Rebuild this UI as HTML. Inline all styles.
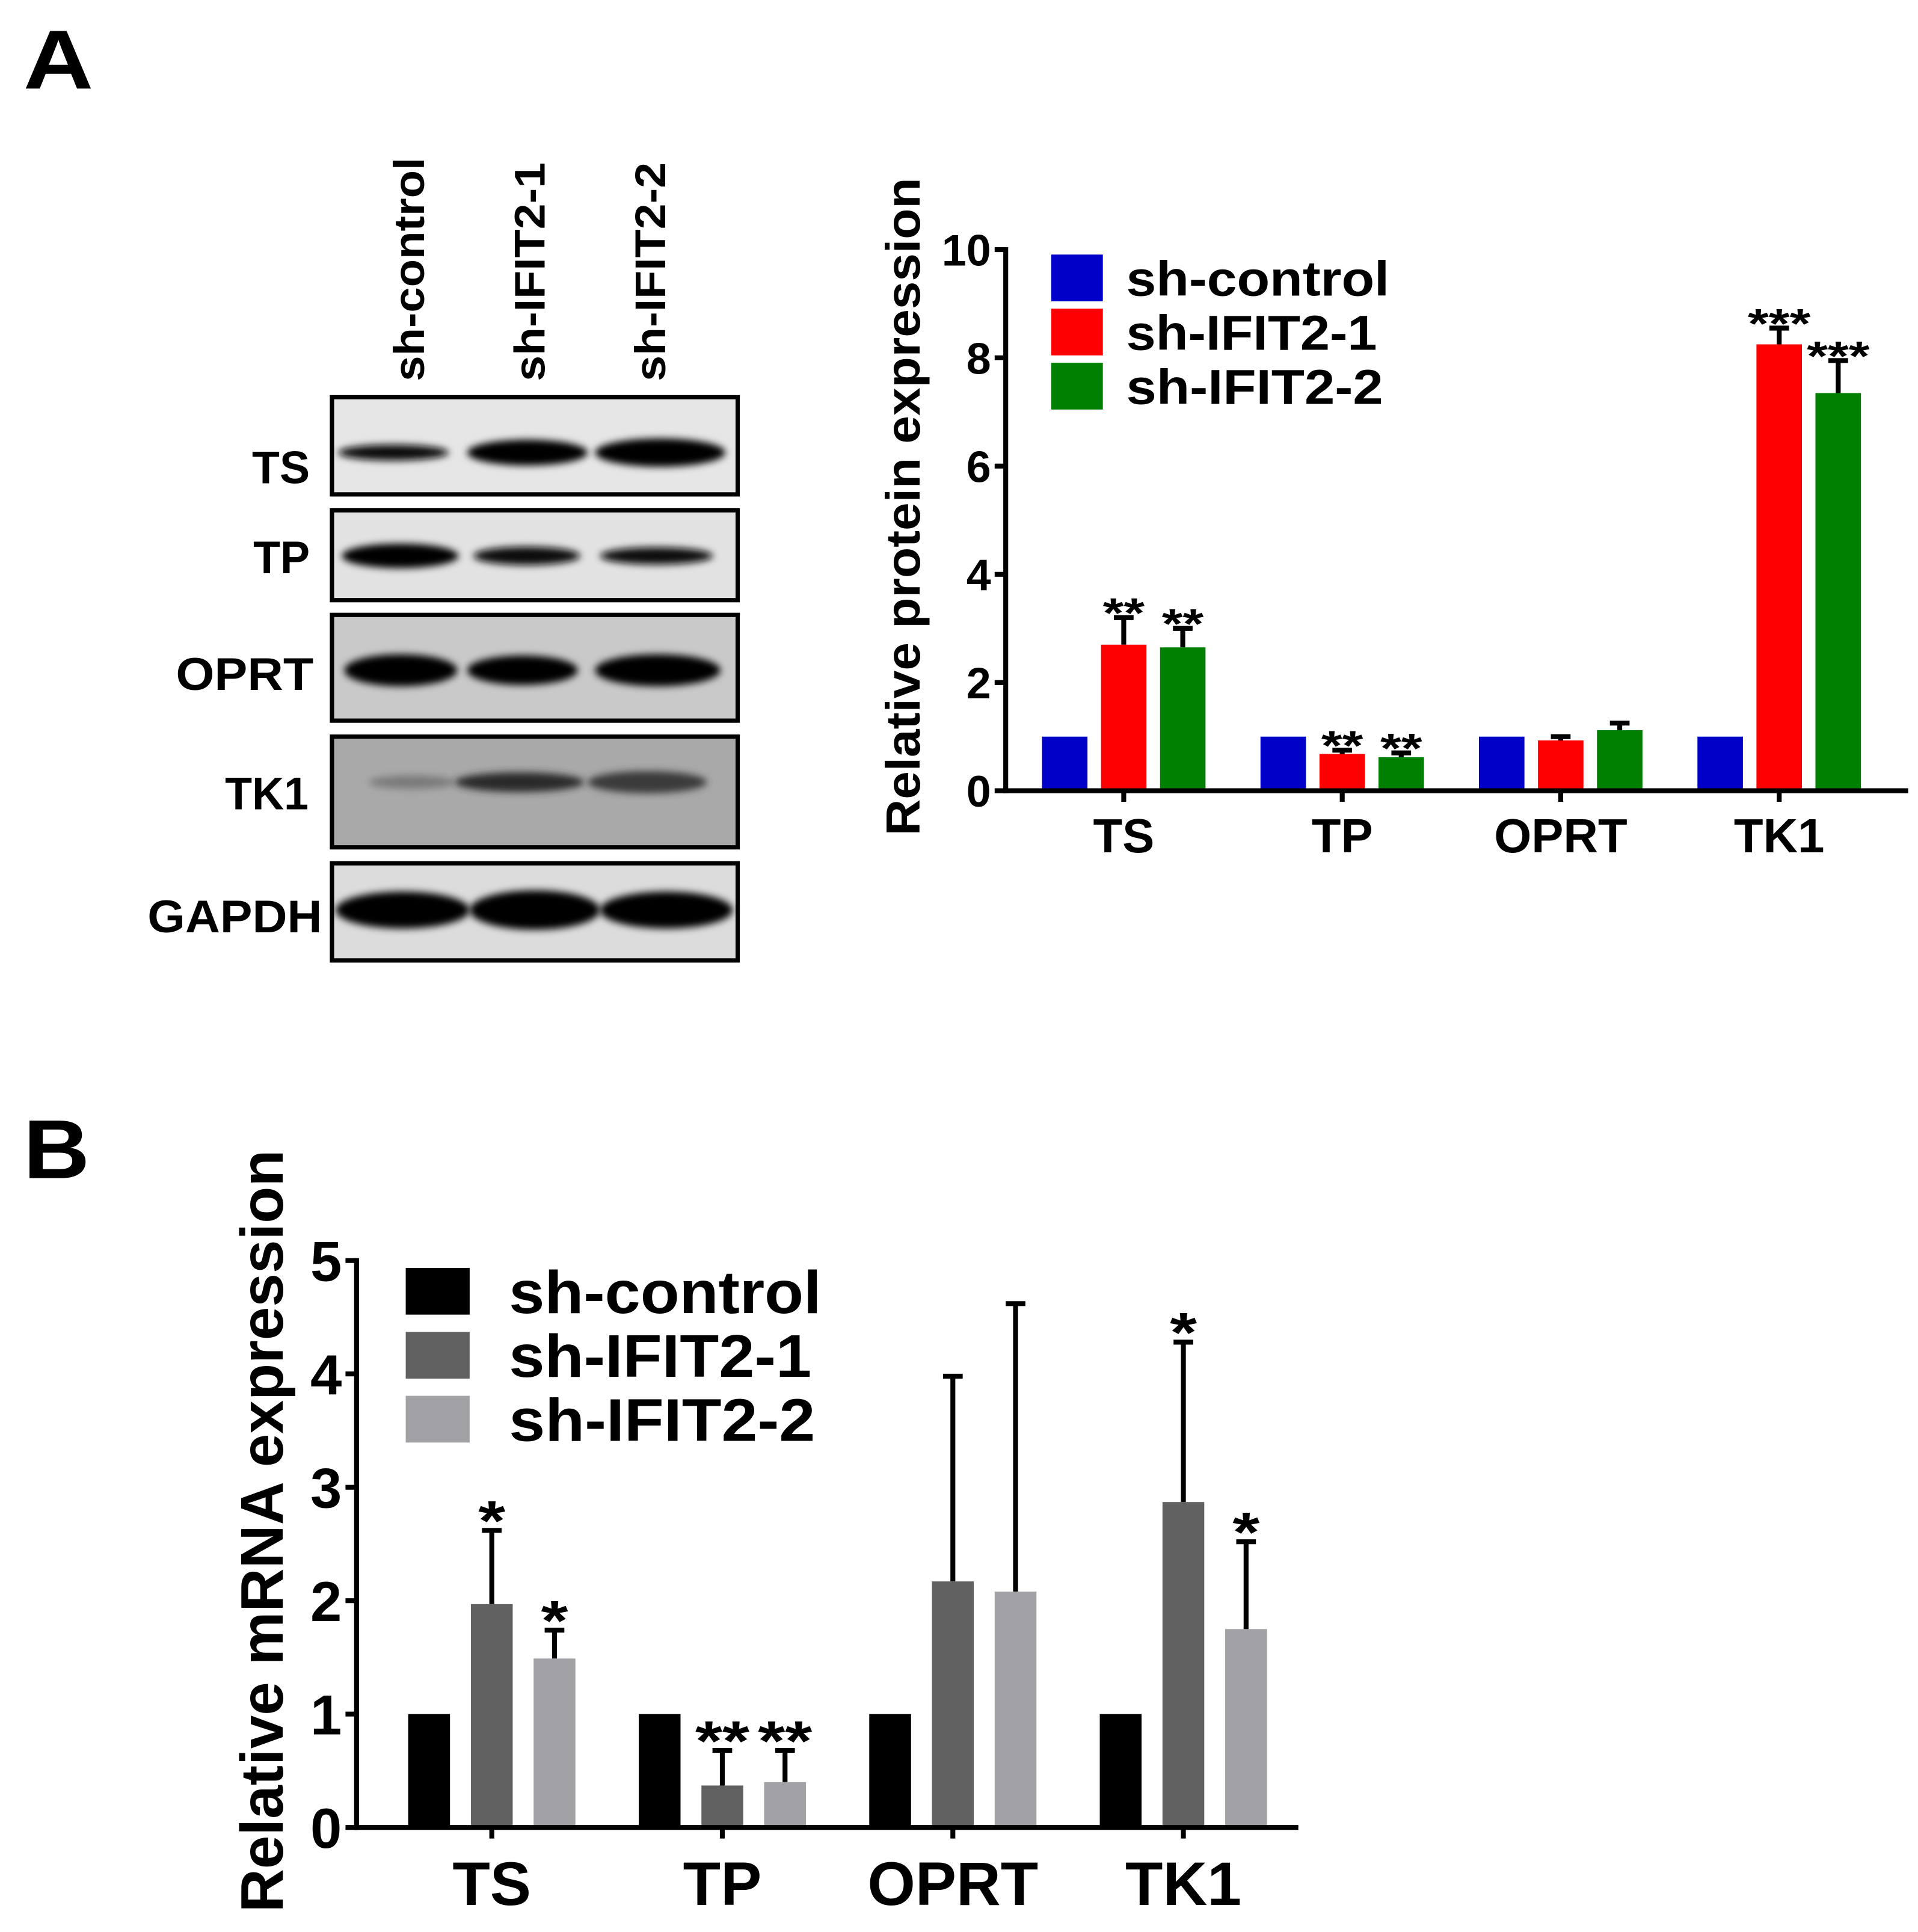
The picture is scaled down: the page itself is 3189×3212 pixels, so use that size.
<!DOCTYPE html>
<html><head><meta charset="utf-8"><style>
html,body{margin:0;padding:0;background:#fff}
svg{display:block}
text{font-family:"Liberation Sans",Arial,sans-serif;font-weight:bold;fill:#000}
</style></head><body>
<svg id="fig" width="3189" height="3212" viewBox="0 0 1560 1571" preserveAspectRatio="none" xmlns="http://www.w3.org/2000/svg">
<defs>
<filter id="blur" x="-20%" y="-100%" width="140%" height="300%"><feGaussianBlur stdDeviation="3"/></filter>
</defs>
<text x="19" y="72" font-size="68" textLength="57" lengthAdjust="spacingAndGlyphs">A</text>
<text x="19" y="958" font-size="68" textLength="54" lengthAdjust="spacingAndGlyphs">B</text>
<g id="blot"></g>
<g id="chartA"></g>
<g id="chartB"></g>
</svg>
<script>
const NS='http://www.w3.org/2000/svg';
function mk(tag,attrs,parent,txt){const e=document.createElementNS(NS,tag);for(const k in attrs)e.setAttribute(k,attrs[k]);if(txt!==undefined)e.textContent=txt;parent.appendChild(e);return e;}
function fit(e,len){e.setAttribute('textLength',len);e.setAttribute('lengthAdjust','spacingAndGlyphs');}

// ---- Western blot ----
const blot=document.getElementById('blot');
const laneNames=['sh-control','sh-IFIT2-1','sh-IFIT2-2'];
const laneX=[345,443,541];
const laneLen=[182,178,178];
laneNames.forEach((n,i)=>{const t=mk('text',{x:laneX[i],y:310,'font-size':35,transform:`rotate(-90 ${laneX[i]} 310)`},blot,n);
fit(t,laneLen[i]);

});
const rows=[
 {n:'TS',y0:323,y1:402,bg:'#e6e6e6',by:368,ly:380,lx0:205,lx1:252,bands:[[275,365,9,'#111'],[380,478,17,'#000'],[484,590,19,'#000']]},
 {n:'TP',y0:415,y1:488,bg:'#e2e2e2',by:452,ly:453,lx0:206,lx1:252,bands:[[278,373,16,'#000'],[385,472,11,'#111'],[488,580,10,'#111']]},
 {n:'OPRT',y0:500,y1:586,bg:'#c9c9c9',by:545,ly:548,lx0:143,lx1:255,bands:[[280,372,22,'#000'],[380,470,20,'#000'],[484,586,22,'#000']]},
 {n:'TK1',y0:599,y1:689,bg:'#a9a9a9',by:636,ly:645,lx0:183,lx1:251,bands:[[300,370,7,'#7a7a7a'],[370,475,12,'#2a2a2a'],[478,575,14,'#3a3a3a']]},
 {n:'GAPDH',y0:702,y1:781,bg:'#dcdcdc',by:740,ly:745,lx0:120,lx1:262,bands:[[273,382,26,'#000'],[382,488,28,'#000'],[488,596,26,'#000']]}
];
rows.forEach(r=>{
 const g=mk('g',{},blot);
 
 
 mk('rect',{x:270,y:r.y0,width:330,height:r.y1-r.y0,fill:r.bg},g);
 r.bands.forEach(b=>{const e=mk('ellipse',{cx:(b[0]+b[1])/2,cy:r.by,rx:(b[1]-b[0])/2,ry:b[2]/2+2,fill:b[3],filter:'url(#blur)'},g);
  
  });
 mk('rect',{x:270,y:r.y0,width:330,height:r.y1-r.y0,fill:'none',stroke:'#000','stroke-width':3.5},g);
 const t=mk('text',{x:r.lx0,y:r.ly+13,'font-size':37},g,r.n);
 fit(t,r.lx1-r.lx0);
 
 
});

// ---- Chart A data ----
const catsA=['TS','TP','OPRT','TK1'];
const seriesA_ctrl=[1,1,1,1];
const seriesA_s1=[2.7,0.68,0.93,8.25];
const seriesA_s2=[2.65,0.62,1.12,7.35];
const errA_s1=[0.5,0.07,0.07,0.3];
const errA_s2=[0.35,0.08,0.13,0.6];
const starsA_s1=['**','**','','***'];
const starsA_s2=['**','**','','***'];
const ticksA=[0,2,4,6,8,10];
const legendA=['sh-control','sh-IFIT2-1','sh-IFIT2-2'];

// ---- Chart B data ----
const catsB=['TS','TP','OPRT','TK1'];
const seriesB_ctrl=[1,1,1,1];
const seriesB_s1=[1.97,0.37,2.17,2.87];
const seriesB_s2=[1.49,0.4,2.08,1.75];
const errB_s1=[0.65,0.31,1.81,1.41];
const errB_s2=[0.25,0.28,2.54,0.77];
const starsB_s1=['*','**','','*'];
const starsB_s2=['*','**','','*'];
const ticksB=[0,1,2,3,4,5];
const legendB=['sh-control','sh-IFIT2-1','sh-IFIT2-2'];

function drawChart(root,cfg){
 const yS=v=>cfg.y0-(v/cfg.ymax)*(cfg.y0-cfg.yTop);
 const xC=i=>cfg.xFirst+i*cfg.gap;
 const series=[cfg.s0,cfg.s1,cfg.s2];
 const errs=[null,cfg.e1,cfg.e2];
 const stars=[null,cfg.st1,cfg.st2];
 cfg.cats.forEach((c,i)=>{
  series.forEach((s,k)=>{
   const cx=xC(i)+(k-1)*cfg.off;
   const top=yS(s[i]);
   if(errs[k]){const ey=yS(s[i]+errs[k][i]);
    const l=mk('line',{x1:cx,x2:cx,y1:top,y2:ey,stroke:'#000','stroke-width':cfg.ew},root);
    
    
    mk('line',{x1:cx-cfg.cap,x2:cx+cfg.cap,y1:ey,y2:ey,stroke:'#000','stroke-width':cfg.ew},root);
    if(stars[k][i]){const st=stars[k][i];
     const t=mk('text',{x:cx-st.length*cfg.starW/2,y:ey+cfg.starDy,'font-size':cfg.starFs},root,st);
     fit(t,st.length*cfg.starW);
     
     }
   }
   const r=mk('rect',{x:cx-cfg.bw/2,y:top,width:cfg.bw,height:cfg.y0-top,fill:cfg.colors[k]},root);
   
   
  });
  mk('line',{x1:xC(i),x2:xC(i),y1:cfg.y0,y2:cfg.y0+cfg.tick,stroke:'#000','stroke-width':cfg.aw},root);
  const t=mk('text',{x:xC(i),y:cfg.catY,'font-size':cfg.catFs,'text-anchor':'middle'},root,c);
  
  
 });
 const ya=mk('line',{x1:cfg.x0,x2:cfg.x0,y1:cfg.yTop-2,y2:cfg.y0+cfg.aw/2,stroke:'#000','stroke-width':cfg.aw},root);
 
 
 const xa=mk('line',{x1:cfg.x0-cfg.aw/2,x2:cfg.xEnd,y1:cfg.y0,y2:cfg.y0,stroke:'#000','stroke-width':cfg.aw},root);
 
 
 cfg.ticks.forEach(v=>{const y=yS(v);
  mk('line',{x1:cfg.x0-cfg.tick,x2:cfg.x0,y1:y,y2:y,stroke:'#000','stroke-width':cfg.aw},root);
  const t=mk('text',{x:cfg.x0-cfg.tick-3,y:y+cfg.tickFs*0.36,'font-size':cfg.tickFs,'text-anchor':'end'},root,String(v));
  
  
 });
 const yt=mk('text',{x:cfg.ytX-cfg.ytLen/2,y:cfg.ytY,'font-size':cfg.ytFs,transform:`rotate(-90 ${cfg.ytX} ${cfg.ytY})`},root,cfg.ytitle);
 fit(yt,cfg.ytLen);
 
 
 cfg.legend.forEach((n,k)=>{
  const y=cfg.legY+k*cfg.legGap;
  const g=mk('g',{},root);
  
  
  mk('rect',{x:cfg.legX,y:y,width:cfg.legW,height:cfg.legH,fill:cfg.colors[k]},g);
  const t=mk('text',{x:cfg.legTX,y:y+cfg.legH*0.5+cfg.legFs*0.36,'font-size':cfg.legFs},g,n);
  fit(t,cfg.legLen[k]);
 });
}

drawChart(document.getElementById('chartA'),{
 cats:catsA,s0:seriesA_ctrl,s1:seriesA_s1,s2:seriesA_s2,e1:errA_s1,e2:errA_s2,st1:starsA_s1,st2:starsA_s2,ticks:ticksA,legend:legendA,
 colors:['#0000c8','#ff0000','#008000'],y0:643,yTop:203,ymax:10,x0:818,xEnd:1552,xFirst:914,gap:177.7,off:48,bw:37,
 ew:4,cap:8,starFs:34,starW:17,starDy:8,aw:4,tick:9,catY:693,catFs:39,tickFs:36,ytX:748,ytY:412,ytFs:39,ytLen:535,ytitle:'Relative protein expression',
 legX:855,legY:207,legGap:44,legW:42,legH:38,legTX:916,legFs:40,legLen:[214,204,209]
});
drawChart(document.getElementById('chartB'),{
 cats:catsB,s0:seriesB_ctrl,s1:seriesB_s1,s2:seriesB_s2,e1:errB_s1,e2:errB_s2,st1:starsB_s1,st2:starsB_s2,ticks:ticksB,legend:legendB,
 colors:['#000000','#616161','#a2a2a6'],y0:1486,yTop:1025,ymax:5,x0:290,xEnd:1056,xFirst:400,gap:187.5,off:51,bw:34,
 ew:4,cap:8,starFs:46,starW:22,starDy:8,aw:4,tick:9,catY:1549,catFs:50,tickFs:46,ytX:230,ytY:1245,ytFs:49,ytLen:620,ytitle:'Relative mRNA expression',
 legX:330,legY:1031,legGap:52,legW:52,legH:38,legTX:414,legFs:49,legLen:[254,246,249]
});
</script>
</body></html>
